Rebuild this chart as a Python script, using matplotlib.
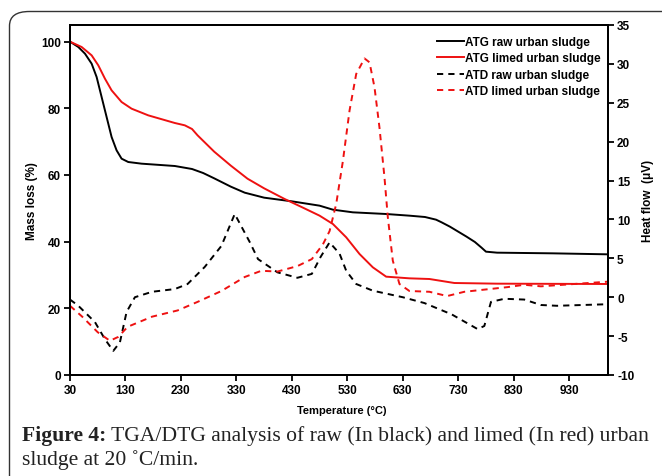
import matplotlib
matplotlib.use("Agg")
import matplotlib.pyplot as plt
from matplotlib.lines import Line2D
from matplotlib.patches import FancyBboxPatch

plt.rcParams["axes.unicode_minus"] = False

# ---------------- data ----------------
atg_raw_T = [30, 45, 57, 69, 78, 87, 96, 105, 114, 123, 135, 159, 219, 250, 270, 290, 320,
             345, 380, 430, 480, 504, 540, 600, 642, 670, 690, 700, 715, 730, 745, 760,
             772, 780, 800, 900, 1000]
atg_raw_m = [100, 98.4, 96.4, 93.4, 89.4, 83.4, 77.4, 71.4, 67.4, 64.9, 63.9, 63.4, 62.7,
             61.8, 60.6, 59, 56.5, 54.7, 53.2, 52.1, 50.8, 49.6, 48.8, 48.3, 47.8, 47.4,
             46.6, 45.8, 44.5, 43, 41.5, 39.9, 38.2, 37, 36.7, 36.5, 36.2]

atg_lim_T = [30, 51, 69, 81, 93, 105, 123, 141, 171, 219, 237, 250, 260, 290, 320, 350,
             380, 417, 450, 480, 504, 528, 552, 576, 600, 642, 678, 723, 800, 1000]
atg_lim_m = [100, 98.4, 95.9, 92.9, 88.9, 85.4, 81.9, 79.9, 77.9, 75.6, 74.9, 73.8, 71.9,
             67, 62.8, 58.9, 56, 52.8, 50.2, 47.8, 45.3, 41.3, 36.3, 32.3, 29.5, 29,
             28.8, 27.6, 27.4, 27.3]

atd_raw_T = [30, 45, 75, 93, 108, 120, 132, 147, 178, 219, 242, 273, 303, 327, 354,
             369, 404, 440, 466, 482, 498, 516, 528, 546, 576, 630, 669, 718, 765, 777,
             789, 813, 849, 879, 908, 1000]
atd_raw_h = [-0.3, -1.1, -3.2, -5.4, -6.9, -5.8, -1.9, 0.0, 0.7, 1.05, 1.7, 3.9, 6.6, 10.7,
             7.1, 4.9, 3.2, 2.5, 3.0, 5.2, 7.05, 5.6, 3.4, 1.7, 0.84, 0.0, -0.75, -2.2,
             -4.1, -3.7, -0.6, -0.2, -0.3, -1.0, -1.1, -0.9]

atd_lim_T = [30, 52, 80, 102, 117, 134, 178, 224, 260, 303, 345, 375, 404, 440, 466,
             486, 498, 510, 522, 534, 546, 561, 570, 579, 588, 597, 603, 612, 624, 642,
             678, 710, 741, 819, 849, 879, 939, 1000]
atd_lim_h = [-1.1, -2.5, -4.5, -5.6, -5.1, -3.8, -2.5, -1.7, -0.6, 0.8, 2.6, 3.4, 3.3, 4.0,
             4.9, 6.8, 8.5, 12, 17.5, 24, 28.7, 30.7, 30.2, 27, 21.8, 15.4, 10.3, 4.7, 1.7,
             0.8, 0.7, 0.15, 0.7, 1.3, 1.6, 1.4, 1.7, 2.0]

x_ticks = [30, 130, 230, 330, 430, 530, 630, 730, 830, 930]
y_left_ticks = [0, 20, 40, 60, 80, 100]
y_right_ticks = [-10, -5, 0, 5, 10, 15, 20, 25, 30, 35]
legend_labels = ["ATG raw urban sludge", "ATG limed urban sludge",
                 "ATD raw urban sludge", "ATD limed urban sludge"]

# ---------------- figure ----------------
W, H = 662, 477
fig = plt.figure(figsize=(W / 100, H / 100), dpi=100)
fig.patch.set_facecolor("white")

# rounded frame
frame = FancyBboxPatch((9.5 / W, -0.2), (W - 9.5 + 20) / W, 1.2 + (-12.5 / H),
                       boxstyle="round,pad=0,rounding_size=0.03",
                       transform=fig.transFigure, fill=False,
                       edgecolor="#333333", linewidth=1.0, zorder=0)
fig.patches.append(frame)

ax = fig.add_axes([70 / W, 1 - 376 / H, (608 - 70) / W, (376 - 26) / H])
ax2 = ax.twinx()

sans = ["Liberation Sans", "DejaVu Sans"]
lw = 1.4
dash = (0, (3.2, 2.6))
red = "#ee1111"

ax.plot(atg_raw_T, atg_raw_m, color="black", lw=lw)
ax.plot(atg_lim_T, atg_lim_m, color=red, lw=lw)
ax2.plot(atd_raw_T, atd_raw_h, color="black", lw=lw, linestyle=dash)
ax2.plot(atd_lim_T, atd_lim_h, color=red, lw=lw, linestyle=dash)

ax.set_xlim(30, 1000)
ax.set_ylim(0, 105)
ax2.set_ylim(-10, 35)
ax.set_xticks(x_ticks)
ax.set_yticks(y_left_ticks)
ax2.set_yticks(y_right_ticks)

for a in (ax, ax2):
    for s in a.spines.values():
        s.set_linewidth(1.4)
    a.tick_params(direction="out", length=4.5, width=1.3, labelsize=8.5, pad=2)
    for lab in a.get_xticklabels() + a.get_yticklabels():
        lab.set_fontfamily(sans)
        lab.set_fontweight("bold")

ax.set_xlabel("Temperature (°C)", fontfamily=sans, fontweight="bold", fontsize=8)
ax.xaxis.set_label_coords(0.505, -0.085)
ax.set_ylabel("Mass loss (%)", fontfamily=sans, fontweight="bold", fontsize=8.5)
ax.yaxis.set_label_coords(-(70 - 38) / (608 - 70), 0.5)
ax2.set_ylabel("Heat flow  (μV)", fontfamily=sans, fontweight="bold", fontsize=8.5)
ax2.yaxis.set_label_coords(1 + (642 - 608) / (608 - 70), 0.5)

handles = [Line2D([], [], color="black", lw=lw),
           Line2D([], [], color=red, lw=lw),
           Line2D([], [], color="black", lw=lw, linestyle=dash),
           Line2D([], [], color=red, lw=lw, linestyle=dash)]
leg = ax.legend(handles, legend_labels, loc="upper left",
                bbox_to_anchor=((437 - 70) / (608 - 70), 1 - (37 - 26) / (376 - 26)),
                frameon=False, prop={"family": sans, "weight": "bold", "size": 8.5},
                handlelength=2.3, handletextpad=0.1, labelspacing=0.38,
                borderaxespad=0, borderpad=0)

# caption
serif = ["Liberation Serif", "DejaVu Serif"]
cap_size = 15.6
t1 = fig.text(22 / W, 1 - 436 / H, "Figure 4:", fontfamily=serif, fontweight="bold",
              fontsize=cap_size, va="center", ha="left", color="#222222")
fig.canvas.draw()
bb = t1.get_window_extent(fig.canvas.get_renderer())
x_next = (bb.x1 + 5) / W
fig.text(x_next, 1 - 436 / H, "TGA/DTG analysis of raw (In black) and limed (In red) urban",
         fontfamily=serif, fontsize=cap_size, va="center", ha="left", color="#222222")
fig.text(22 / W, 1 - 460 / H, "sludge at 20 ˚C/min.", fontfamily=serif, fontsize=cap_size,
         va="center", ha="left", color="#222222")

fig.savefig("out.png", dpi=100, facecolor="white")
